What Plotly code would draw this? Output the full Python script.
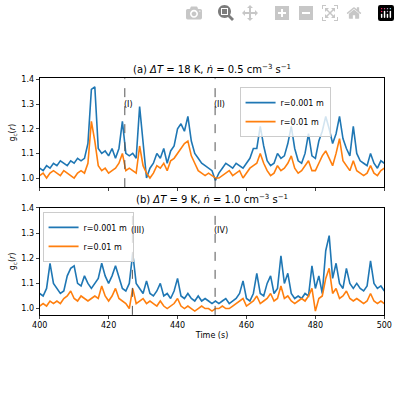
import plotly.graph_objects as go

t = list(range(400, 501))
a_blue = [1.04,1.03,1.05,1.04,1.06,1.05,1.07,1.06,1.05,1.07,1.06,1.08,1.07,1.08,1.14,1.36,1.37,1.12,1.10,1.11,
          1.09,1.12,1.08,1.12,1.23,1.10,1.09,1.10,1.08,1.29,1.15,1.00,1.04,1.06,1.10,1.08,1.12,1.06,1.11,1.13,
          1.20,1.22,1.19,1.25,1.15,1.10,1.08,1.06,1.05,1.04,1.03,0.99,1.02,1.04,1.06,1.05,1.04,1.06,1.05,1.04,
          1.06,1.08,1.12,1.12,1.21,1.13,1.07,1.05,1.06,1.10,1.08,1.09,1.14,1.21,1.12,1.07,1.06,1.10,1.18,1.09,
          1.08,1.15,1.19,1.25,1.20,1.14,1.18,1.25,1.16,1.12,1.09,1.21,1.10,1.07,1.06,1.05,1.10,1.06,1.04,1.07,1.06]
a_orange = [1.01,1.02,1.00,1.02,1.03,1.02,1.01,1.03,1.02,1.01,1.00,1.02,1.03,1.02,1.06,1.23,1.15,1.05,1.03,1.04,
            1.02,1.03,1.04,1.06,1.10,1.03,1.04,1.03,1.02,1.13,1.05,1.02,1.00,1.02,1.05,1.04,1.06,1.03,1.07,1.08,
            1.10,1.12,1.14,1.15,1.09,1.06,1.03,1.02,1.01,1.02,1.01,1.00,1.00,1.01,1.02,1.03,1.01,1.02,1.03,1.00,
            1.02,1.04,1.05,1.06,1.10,1.06,1.03,1.01,1.02,1.05,1.03,1.04,1.06,1.09,1.04,1.02,1.03,1.05,1.07,1.03,
            1.03,1.06,1.09,1.11,1.08,1.05,1.10,1.16,1.07,1.05,1.03,1.07,1.03,1.02,1.01,1.02,1.05,1.02,1.01,1.03,1.04]
b_blue = [1.06,1.05,1.08,1.18,1.10,1.08,1.06,1.07,1.13,1.16,1.17,1.10,1.09,1.13,1.10,1.08,1.10,1.12,1.18,1.13,
          1.10,1.13,1.17,1.12,1.08,1.07,1.10,1.22,1.10,1.08,1.06,1.11,1.06,1.05,1.07,1.10,1.05,1.06,1.04,1.07,
          1.12,1.05,1.04,1.06,1.04,1.03,1.05,1.03,1.04,1.03,1.02,1.03,1.02,1.03,1.04,1.02,1.03,1.04,1.06,1.11,
          1.04,1.03,1.06,1.14,1.06,1.05,1.10,1.13,1.06,1.08,1.21,1.10,1.14,1.06,1.04,1.05,1.04,1.06,1.05,1.17,
          1.08,1.13,1.06,1.23,1.29,1.12,1.18,1.10,1.08,1.16,1.10,1.08,1.10,1.08,1.07,1.09,1.19,1.10,1.08,1.09,1.07]
b_orange = [1.01,1.02,1.01,1.03,1.02,1.03,1.02,1.04,1.05,1.07,1.04,1.03,1.05,1.04,1.03,1.04,1.05,1.04,1.09,1.05,
            1.03,1.05,1.08,1.04,1.03,1.02,1.00,1.08,1.02,1.03,1.04,1.02,1.03,1.02,1.01,1.03,1.01,1.00,1.01,1.02,
            1.04,1.01,1.00,1.01,1.00,0.99,1.00,1.01,1.00,1.00,0.99,1.00,1.00,1.01,1.00,1.00,1.01,1.02,1.03,1.04,
            1.01,1.02,1.03,1.05,1.02,1.03,1.04,1.06,1.03,1.04,1.09,1.04,1.05,1.03,1.02,1.03,1.04,1.03,1.05,1.08,
            0.99,1.04,1.05,1.12,1.16,1.06,1.08,1.04,1.05,1.07,1.04,1.03,1.04,1.03,1.02,1.03,1.06,1.03,1.02,1.03,1.02]
vlines_a = [424.7, 450.9]
vlabels_a = ["(I)", "(II)"]
vlines_b = [426.9, 450.9]
vlabels_b = ["(III)", "(IV)"]

BLUE, ORANGE = "#1f77b4", "#ff7f0e"
fig = go.Figure()
fig.add_trace(go.Scatter(x=t, y=a_blue, mode="lines", line=dict(color=BLUE, width=1.6), name="r=0.001 m", xaxis="x", yaxis="y", legend="legend"))
fig.add_trace(go.Scatter(x=t, y=a_orange, mode="lines", line=dict(color=ORANGE, width=1.6), name="r=0.01 m", xaxis="x", yaxis="y", legend="legend"))
fig.add_trace(go.Scatter(x=t, y=b_blue, mode="lines", line=dict(color=BLUE, width=1.6), name="r=0.001 m", xaxis="x2", yaxis="y2", legend="legend2"))
fig.add_trace(go.Scatter(x=t, y=b_orange, mode="lines", line=dict(color=ORANGE, width=1.6), name="r=0.01 m", xaxis="x2", yaxis="y2", legend="legend2"))

shapes, ann = [], []
for xv, lb in zip(vlines_a, vlabels_a):
    shapes.append(dict(type="line", xref="x", yref="y domain", x0=xv, x1=xv, y0=0, y1=1, line=dict(color="#555", width=1, dash="dash")))
    ann.append(dict(xref="x", yref="y", x=xv, y=1.3, text=lb, showarrow=False, xanchor="left", xshift=-3, font=dict(size=8)))
for xv, lb in zip(vlines_b, vlabels_b):
    shapes.append(dict(type="line", xref="x2", yref="y2 domain", x0=xv, x1=xv, y0=0, y1=1, line=dict(color="#555", width=1, dash="dash")))
    ann.append(dict(xref="x2", yref="y2", x=xv, y=1.31, text=lb, showarrow=False, xanchor="left", xshift=-3, font=dict(size=8)))
ann.append(dict(xref="paper", yref="paper", x=0.53, y=0.815, yanchor="bottom", showarrow=False, font=dict(size=10),
                text="(a) <i>ΔT</i> = 18 K, <i>ṅ</i> = 0.5 cm<sup>−3</sup> s<sup>−1</sup>"))
ann.append(dict(xref="paper", yref="paper", x=0.53, y=0.487, yanchor="bottom", showarrow=False, font=dict(size=10),
                text="(b) <i>ΔT</i> = 9 K, <i>ṅ</i> = 1.0 cm<sup>−3</sup> s<sup>−1</sup>"))

ax = dict(showgrid=False, zeroline=False, showline=True, linecolor="black", mirror=True, ticks="outside", ticklen=3, tickfont=dict(size=8), range=[400, 500], tickvals=[400,420,440,460,480,500])
ay = dict(showgrid=False, zeroline=False, showline=True, linecolor="black", mirror=True, ticks="outside", ticklen=3, tickfont=dict(size=8), tickvals=[1.0,1.1,1.2,1.3,1.4], tickformat=".1f",
          title=dict(text="g<sub>c</sub>(<i>r</i>)", font=dict(size=8), standoff=4))
leg = dict(bordercolor="#ccc", borderwidth=1, font=dict(size=8), tracegroupgap=0, itemwidth=30, bgcolor="rgba(255,255,255,0.8)")
fig.update_layout(
    width=400, height=400, margin=dict(l=0, r=0, t=0, b=0), plot_bgcolor="white", paper_bgcolor="white",
    font=dict(family="DejaVu Sans", color="black"),
    xaxis=dict(ax, domain=[0.0825, 0.98], anchor="y", showticklabels=False),
    yaxis=dict(ay, domain=[0.5375, 0.8125], anchor="x", range=[0.963, 1.405]),
    xaxis2=dict(ax, domain=[0.0825, 0.98], anchor="y2", title=dict(text="Time (s)", font=dict(size=8), standoff=2)),
    yaxis2=dict(ay, domain=[0.215, 0.485], anchor="x2", range=[0.975, 1.4]),
    legend=dict(leg, x=0.84, y=0.79, xanchor="right", yanchor="top"),
    legend2=dict(leg, x=0.09, y=0.475, xanchor="left", yanchor="top"),
    shapes=shapes, annotations=ann,
)
fig.write_html("out.html", post_script="document.body.style.margin='0';")
